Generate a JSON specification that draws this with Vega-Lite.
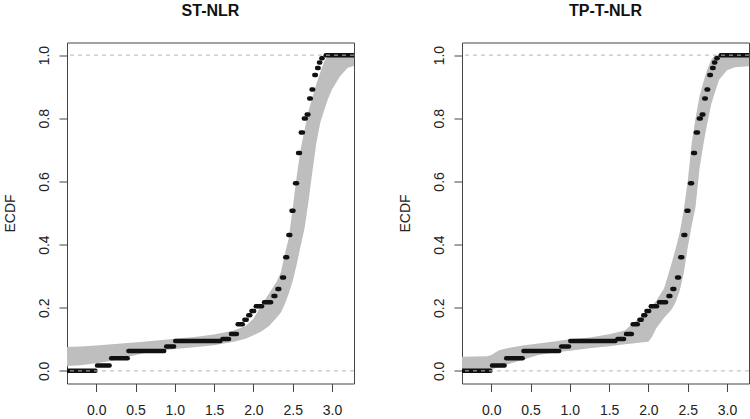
{
  "$schema": "https://vega.github.io/schema/vega-lite/v6.json",
  "padding": {"left": 2, "top": 1.5, "right": 0, "bottom": 0},
  "background": "white",
  "spacing": 108,
  "bounds": "flush",
  "config": {
    "font": "Liberation Sans",
    "view": {"stroke": "#444", "strokeWidth": 1},
    "title": {"font": "Liberation Sans", "fontSize": 16, "fontWeight": "bold", "color": "#111", "anchor": "middle", "baseline": "alphabetic", "offset": 24},
    "axis": {"grid": false, "domain": false, "tickSize": 8, "tickColor": "#444", "labelFont": "Liberation Sans", "labelFontSize": 14, "labelColor": "#222", "titleFont": "Liberation Sans", "titleFontSize": 14, "titleFontWeight": "normal", "titleColor": "#222", "labelOverlap": false, "labelFlush": false}
  },
  "datasets": {
    "ecdf": [
      {"x": -0.5, "x2": -0.01, "y": 0.0},
      {"x": 0.01, "x2": 0.17, "y": 0.017},
      {"x": 0.19, "x2": 0.40, "y": 0.040},
      {"x": 0.41, "x2": 0.865, "y": 0.063},
      {"x": 0.89, "x2": 0.99, "y": 0.077},
      {"x": 1.005, "x2": 1.58, "y": 0.095},
      {"x": 1.605, "x2": 1.69, "y": 0.101},
      {"x": 1.715, "x2": 1.79, "y": 0.117},
      {"x": 1.80, "x2": 1.865, "y": 0.148},
      {"x": 1.885, "x2": 1.915, "y": 0.162},
      {"x": 1.935, "x2": 1.96, "y": 0.176},
      {"x": 1.975, "x2": 2.01, "y": 0.190},
      {"x": 2.03, "x2": 2.11, "y": 0.205},
      {"x": 2.135, "x2": 2.225, "y": 0.217},
      {"x": 2.255, "x2": 2.28, "y": 0.237},
      {"x": 2.305, "x2": 2.33, "y": 0.259},
      {"x": 2.365, "x2": 2.39, "y": 0.296},
      {"x": 2.405, "x2": 2.43, "y": 0.360},
      {"x": 2.445, "x2": 2.47, "y": 0.430},
      {"x": 2.485, "x2": 2.51, "y": 0.507},
      {"x": 2.53, "x2": 2.555, "y": 0.594},
      {"x": 2.568, "x2": 2.593, "y": 0.690},
      {"x": 2.603, "x2": 2.63, "y": 0.755},
      {"x": 2.642, "x2": 2.667, "y": 0.799},
      {"x": 2.678, "x2": 2.70, "y": 0.812},
      {"x": 2.71, "x2": 2.73, "y": 0.863},
      {"x": 2.74, "x2": 2.76, "y": 0.891},
      {"x": 2.775, "x2": 2.795, "y": 0.937},
      {"x": 2.81, "x2": 2.83, "y": 0.959},
      {"x": 2.835, "x2": 2.85, "y": 0.977},
      {"x": 2.865, "x2": 2.88, "y": 0.990},
      {"x": 2.92, "x2": 3.5, "y": 1.0}
    ],
    "envST": [
      {"x": -0.40, "lower": 0.015, "upper": 0.075},
      {"x": -0.2, "lower": 0.018, "upper": 0.077},
      {"x": 0.0, "lower": 0.024, "upper": 0.080},
      {"x": 0.2, "lower": 0.032, "upper": 0.084},
      {"x": 0.4, "lower": 0.044, "upper": 0.088},
      {"x": 0.6, "lower": 0.056, "upper": 0.092},
      {"x": 0.8, "lower": 0.063, "upper": 0.097},
      {"x": 1.0, "lower": 0.069, "upper": 0.102},
      {"x": 1.25, "lower": 0.075, "upper": 0.107},
      {"x": 1.5, "lower": 0.081, "upper": 0.115},
      {"x": 1.75, "lower": 0.092, "upper": 0.128},
      {"x": 1.9, "lower": 0.102, "upper": 0.142},
      {"x": 2.0, "lower": 0.113, "upper": 0.165},
      {"x": 2.1, "lower": 0.125, "upper": 0.207},
      {"x": 2.2, "lower": 0.142, "upper": 0.245},
      {"x": 2.3, "lower": 0.170, "upper": 0.285},
      {"x": 2.35, "lower": 0.185, "upper": 0.312},
      {"x": 2.4, "lower": 0.212, "upper": 0.370},
      {"x": 2.45, "lower": 0.245, "upper": 0.420},
      {"x": 2.5, "lower": 0.285, "upper": 0.515},
      {"x": 2.55, "lower": 0.335, "upper": 0.615},
      {"x": 2.6, "lower": 0.395, "upper": 0.700},
      {"x": 2.65, "lower": 0.450, "upper": 0.762},
      {"x": 2.7, "lower": 0.535, "upper": 0.822},
      {"x": 2.75, "lower": 0.630, "upper": 0.865},
      {"x": 2.8, "lower": 0.720, "upper": 0.908},
      {"x": 2.85, "lower": 0.785, "upper": 0.945},
      {"x": 2.9, "lower": 0.825, "upper": 0.980},
      {"x": 2.95, "lower": 0.862, "upper": 1.0},
      {"x": 3.0, "lower": 0.891, "upper": 1.0},
      {"x": 3.1, "lower": 0.932, "upper": 1.0},
      {"x": 3.2, "lower": 0.960, "upper": 1.0},
      {"x": 3.3, "lower": 0.967, "upper": 1.0}
    ],
    "envTP": [
      {"x": -0.40, "lower": 0.0, "upper": 0.045},
      {"x": -0.05, "lower": 0.0, "upper": 0.046},
      {"x": 0.0, "lower": 0.004, "upper": 0.050},
      {"x": 0.1, "lower": 0.012, "upper": 0.065},
      {"x": 0.2, "lower": 0.020, "upper": 0.072},
      {"x": 0.4, "lower": 0.035, "upper": 0.080},
      {"x": 0.6, "lower": 0.050, "upper": 0.087},
      {"x": 0.8, "lower": 0.058, "upper": 0.093},
      {"x": 1.0, "lower": 0.064, "upper": 0.100},
      {"x": 1.25, "lower": 0.072, "upper": 0.106},
      {"x": 1.5, "lower": 0.078, "upper": 0.116},
      {"x": 1.7, "lower": 0.084, "upper": 0.128},
      {"x": 1.8, "lower": 0.087, "upper": 0.150},
      {"x": 1.9, "lower": 0.090, "upper": 0.170},
      {"x": 2.0, "lower": 0.092, "upper": 0.195},
      {"x": 2.05, "lower": 0.110, "upper": 0.208},
      {"x": 2.1, "lower": 0.135, "upper": 0.222},
      {"x": 2.2, "lower": 0.168, "upper": 0.262},
      {"x": 2.3, "lower": 0.196, "upper": 0.345},
      {"x": 2.35, "lower": 0.220, "upper": 0.390},
      {"x": 2.4, "lower": 0.255, "upper": 0.440},
      {"x": 2.45, "lower": 0.310, "upper": 0.510},
      {"x": 2.5, "lower": 0.390, "upper": 0.600},
      {"x": 2.55, "lower": 0.460, "upper": 0.720},
      {"x": 2.6, "lower": 0.520, "upper": 0.800},
      {"x": 2.65, "lower": 0.640, "upper": 0.870},
      {"x": 2.7, "lower": 0.718, "upper": 0.915},
      {"x": 2.75, "lower": 0.785, "upper": 0.955},
      {"x": 2.8, "lower": 0.845, "upper": 0.985},
      {"x": 2.85, "lower": 0.885, "upper": 1.0},
      {"x": 2.9, "lower": 0.922, "upper": 1.0},
      {"x": 3.0, "lower": 0.952, "upper": 1.0},
      {"x": 3.1, "lower": 0.962, "upper": 1.0},
      {"x": 3.3, "lower": 0.965, "upper": 1.0}
    ],
    "ref": [{"y": 0.0}, {"y": 1.0}]
  },
  "hconcat": [
    {
      "width": 287,
      "height": 341,
      "title": "ST-NLR",
      "layer": [
        {
          "data": {"name": "envST"},
          "mark": {"type": "area", "color": "#bebebe", "clip": true},
          "encoding": {
            "x": {"field": "x", "type": "quantitative", "scale": {"domain": [-0.372, 3.28], "nice": false, "zero": false},
              "axis": {"values": [0, 0.5, 1, 1.5, 2, 2.5, 3], "format": ".1f", "labelBaseline": "alphabetic", "labelPadding": 23, "title": null}},
            "y": {"field": "lower", "type": "quantitative", "scale": {"domain": [-0.04, 1.04], "nice": false, "zero": false},
              "axis": {"values": [0, 0.2, 0.4, 0.6, 0.8, 1.0], "format": ".1f", "labelAngle": 270, "labelAlign": "center", "labelBaseline": "alphabetic", "labelPadding": 10.7, "title": "ECDF", "titleBaseline": "alphabetic", "titlePadding": 23}},
            "y2": {"field": "upper"}
          }
        },
        {
          "data": {"name": "ecdf"},
          "mark": {"type": "rule", "color": "#111", "strokeWidth": 4.5, "strokeCap": "round", "clip": true},
          "encoding": {
            "x": {"field": "x", "type": "quantitative"},
            "x2": {"field": "x2"},
            "y": {"field": "y", "type": "quantitative"}
          }
        },
        {
          "data": {"name": "ref"},
          "mark": {"type": "rule", "color": "#b8b8b8", "strokeWidth": 1, "strokeDash": [4, 4]},
          "encoding": {"y": {"field": "y", "type": "quantitative"}}
        }
      ]
    },
    {
      "width": 287,
      "height": 341,
      "title": "TP-T-NLR",
      "layer": [
        {
          "data": {"name": "envTP"},
          "mark": {"type": "area", "color": "#bebebe", "clip": true},
          "encoding": {
            "x": {"field": "x", "type": "quantitative", "scale": {"domain": [-0.372, 3.28], "nice": false, "zero": false},
              "axis": {"values": [0, 0.5, 1, 1.5, 2, 2.5, 3], "format": ".1f", "labelBaseline": "alphabetic", "labelPadding": 23, "title": null}},
            "y": {"field": "lower", "type": "quantitative", "scale": {"domain": [-0.04, 1.04], "nice": false, "zero": false},
              "axis": {"values": [0, 0.2, 0.4, 0.6, 0.8, 1.0], "format": ".1f", "labelAngle": 270, "labelAlign": "center", "labelBaseline": "alphabetic", "labelPadding": 10.7, "title": "ECDF", "titleBaseline": "alphabetic", "titlePadding": 23}},
            "y2": {"field": "upper"}
          }
        },
        {
          "data": {"name": "ecdf"},
          "mark": {"type": "rule", "color": "#111", "strokeWidth": 4.5, "strokeCap": "round", "clip": true},
          "encoding": {
            "x": {"field": "x", "type": "quantitative"},
            "x2": {"field": "x2"},
            "y": {"field": "y", "type": "quantitative"}
          }
        },
        {
          "data": {"name": "ref"},
          "mark": {"type": "rule", "color": "#b8b8b8", "strokeWidth": 1, "strokeDash": [4, 4]},
          "encoding": {"y": {"field": "y", "type": "quantitative"}}
        }
      ]
    }
  ]
}
